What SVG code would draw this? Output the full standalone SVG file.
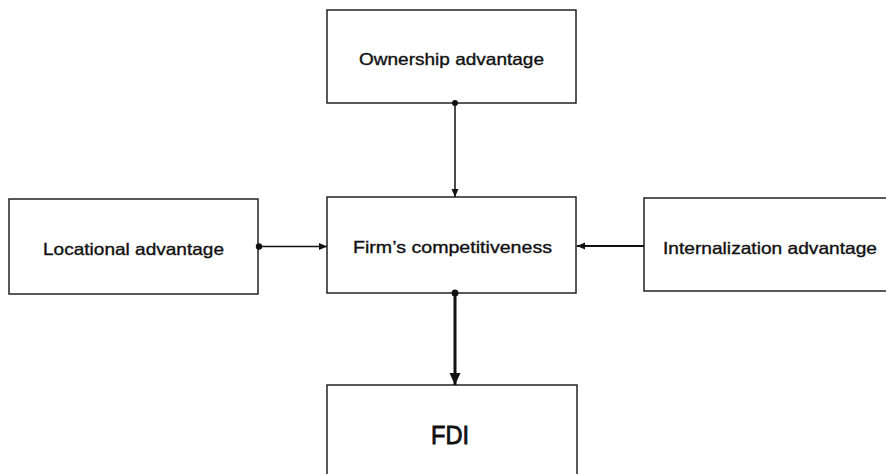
<svg xmlns="http://www.w3.org/2000/svg" width="886" height="474" viewBox="0 0 886 474">
<defs>
<marker id="arr" markerWidth="8" markerHeight="8" refX="8" refY="4" orient="auto" markerUnits="userSpaceOnUse">
<path d="M0,0.5 L8,4 L0,7.5 Z" fill="#111"/>
</marker>
<marker id="arrBig" markerWidth="12" markerHeight="12" refX="12" refY="6" orient="auto" markerUnits="userSpaceOnUse">
<path d="M0,0.5 L12,6 L0,11.5 Z" fill="#111"/>
</marker>
</defs>
<style>
.box{fill:#fff;stroke:#222;stroke-width:1.5}
.lbl{font-family:"Liberation Sans",Arial,sans-serif;font-size:16.5px;fill:#111;stroke:#111;stroke-width:0.35;text-anchor:middle}
.big{font-size:25px;stroke-width:0.8}
.ln{stroke:#111;fill:none}
.dot{fill:#111}
</style>
<rect width="886" height="474" fill="#fff"/>
<g id="ownership">
<rect class="box" x="327" y="10" width="249" height="93"/>
<text class="lbl" x="451.5" y="65" textLength="185" lengthAdjust="spacingAndGlyphs">Ownership advantage</text>
</g>
<g id="locational">
<rect class="box" x="9" y="199" width="249" height="95"/>
<text class="lbl" x="133.5" y="255" textLength="181" lengthAdjust="spacingAndGlyphs">Locational advantage</text>
</g>
<g id="firm">
<rect class="box" x="327" y="197" width="249" height="96"/>
<text class="lbl" x="452.5" y="253" textLength="199" lengthAdjust="spacingAndGlyphs">Firm’s competitiveness</text>
</g>
<g id="internalization">
<rect class="box" x="644" y="198" width="260" height="93"/>
<text class="lbl" x="770" y="254" textLength="214" lengthAdjust="spacingAndGlyphs">Internalization advantage</text>
</g>
<g id="fdi">
<rect class="box" x="327" y="385" width="250" height="100"/>
<text class="lbl big" x="450" y="444" textLength="38" lengthAdjust="spacingAndGlyphs">FDI</text>
</g>
<g id="connectors">
<line class="ln" x1="455" y1="103" x2="455" y2="197" stroke-width="1.5" marker-end="url(#arr)"/>
<circle class="dot" cx="455" cy="103" r="3"/>
<line class="ln" x1="258" y1="246.5" x2="327" y2="246.5" stroke-width="1.5" marker-end="url(#arr)"/>
<circle class="dot" cx="259" cy="246.5" r="3.2"/>
<line class="ln" x1="644" y1="246" x2="577" y2="246" stroke-width="2" marker-end="url(#arr)"/>
<line class="ln" x1="455" y1="293" x2="455" y2="385" stroke-width="3" marker-end="url(#arrBig)"/>
<circle class="dot" cx="455" cy="293" r="3.5"/>
</g>
</svg>
